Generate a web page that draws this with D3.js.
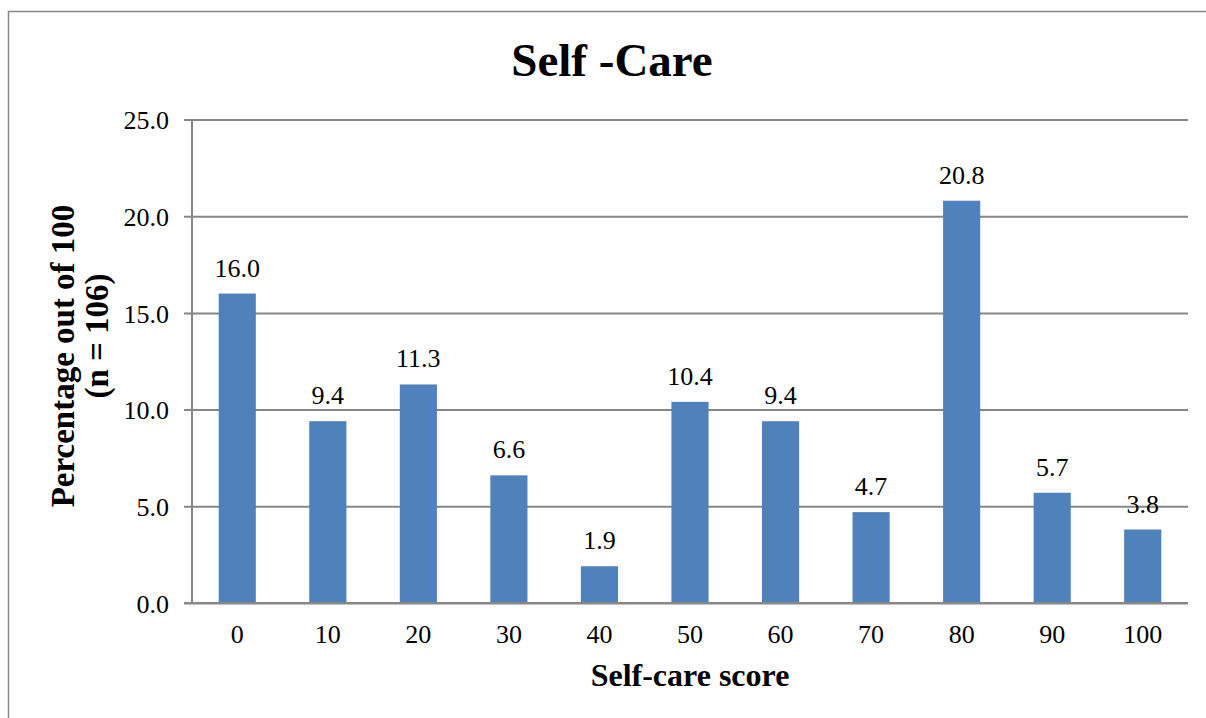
<!DOCTYPE html>
<html>
<head>
<meta charset="utf-8">
<script src="https://cdn.jsdelivr.net/npm/d3@7/dist/d3.min.js"></script>
<style>
  html, body { margin: 0; padding: 0; background: #ffffff; }
  svg { display: block; }
  text { font-family: "Liberation Serif", "Times New Roman", serif; fill: #000; }
</style>
</head>
<body>
<svg id="chart" width="1206" height="718"></svg>
<script>
// Self-care score categories and the share of respondents in each
const scores = ["0", "10", "20", "30", "40", "50", "60", "70", "80", "90", "100"];
const percentages = [16.0, 9.4, 11.3, 6.6, 1.9, 10.4, 9.4, 4.7, 20.8, 5.7, 3.8];
const yTicks = [0, 5, 10, 15, 20, 25];

const title = "Self -Care";
const xTitle = "Self-care score";
const yTitleLines = ["Percentage out of 100", "(n = 106)"];

const svg = d3.select("#chart");
const gridColor = "#878787";
const barColor = "#4F81BD";

const plot = { left: 192, right: 1188, top: 119.5, bottom: 603 };

// outer chart frame
svg.append("path")
  .attr("d", `M8.5,718 V11.5 H1206`)
  .attr("fill", "none")
  .attr("stroke", gridColor)
  .attr("stroke-width", 1.5);

const x = d3.scaleBand()
  .domain(scores)
  .range([plot.left, plot.right])
  .paddingInner(0.59)
  .paddingOuter(0.295);

const y = d3.scaleLinear()
  .domain([0, 25])
  .range([plot.bottom, plot.top]);

// horizontal gridlines with short ticks to the left of the axis
const yAxis = d3.axisLeft(y)
  .tickValues(yTicks)
  .tickSize(-(plot.right - plot.left))
  .tickSizeOuter(0)
  .tickFormat(d3.format(".1f"));

const gy = svg.append("g")
  .attr("transform", `translate(${plot.left},0)`)
  .call(yAxis);
gy.select(".domain").remove();
gy.selectAll(".tick line")
  .attr("x1", -8)
  .attr("stroke", gridColor)
  .attr("stroke-width", 2);
gy.selectAll(".tick text")
  .attr("x", -23)
  .attr("dy", "0.36em")
  .style("font-size", "26px");

// vertical axis line
svg.append("line")
  .attr("x1", plot.left).attr("x2", plot.left)
  .attr("y1", plot.top).attr("y2", plot.bottom)
  .attr("stroke", gridColor)
  .attr("stroke-width", 2);

// bars
svg.append("g")
  .selectAll("rect")
  .data(percentages)
  .join("rect")
  .attr("x", (d, i) => x(scores[i]))
  .attr("width", x.bandwidth())
  .attr("y", d => y(d))
  .attr("height", d => y(0) - y(d))
  .attr("fill", barColor);

// baseline drawn over the bars
svg.append("line")
  .attr("x1", plot.left - 8).attr("x2", plot.right)
  .attr("y1", y(0)).attr("y2", y(0))
  .attr("stroke", gridColor)
  .attr("stroke-width", 2);

// value labels
svg.append("g")
  .selectAll("text")
  .data(percentages)
  .join("text")
  .attr("x", (d, i) => x(scores[i]) + x.bandwidth() / 2)
  .attr("y", d => y(d) - 17)
  .attr("text-anchor", "middle")
  .style("font-size", "26px")
  .text(d => d3.format(".1f")(d));

// category axis labels
const xAxis = d3.axisBottom(x).tickSize(0).tickPadding(0);
const gx = svg.append("g")
  .attr("transform", `translate(0,${plot.bottom})`)
  .call(xAxis);
gx.select(".domain").remove();
gx.selectAll(".tick text")
  .attr("y", 40)
  .attr("dy", 0)
  .style("font-size", "26px");

// chart title
svg.append("text")
  .attr("x", 612)
  .attr("y", 76)
  .attr("text-anchor", "middle")
  .style("font-size", "47px")
  .style("font-weight", "bold")
  .text(title);

// x axis title
svg.append("text")
  .attr("x", (plot.left + plot.right) / 2)
  .attr("y", 686)
  .attr("text-anchor", "middle")
  .style("font-size", "32px")
  .style("font-weight", "bold")
  .text(xTitle);

// y axis title, two rotated lines
const yTitleCenters = [[74, 356], [108, 336]];
svg.append("g")
  .selectAll("text")
  .data(yTitleLines)
  .join("text")
  .attr("transform", (d, i) => `translate(${yTitleCenters[i][0]},${yTitleCenters[i][1]}) rotate(-90)`)
  .attr("text-anchor", "middle")
  .style("font-size", "33px")
  .style("font-weight", "bold")
  .text(d => d);
</script>
</body>
</html>
